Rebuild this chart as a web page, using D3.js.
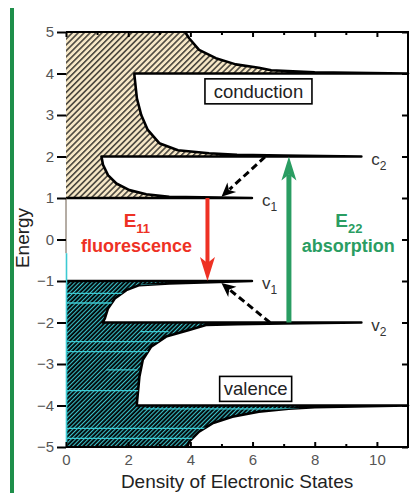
<!DOCTYPE html>
<html>
<head>
<meta charset="utf-8">
<script src="https://cdn.jsdelivr.net/npm/d3@7"></script>
<style>
    body { margin: 0; background: #fff; }
    text { font-family: "Liberation Sans", Arial, sans-serif; }
</style>
</head>
<body>
<svg id="chart" width="412" height="493"></svg>
<script>
// data: [density, energy]
var conductionEdge = [
    [0, 1], [5.98, 1], [3.32, 1.03], [2.58, 1.09], [2.04, 1.19], [1.62, 1.35],
    [1.35, 1.55], [1.19, 1.8], [1.14, 2], [9.5, 2], [7, 2.02], [5.5, 2.04],
    [4.6, 2.08], [3.6, 2.15], [3.0, 2.32], [2.63, 2.64], [2.42, 3.0], [2.28, 3.4],
    [2.2, 3.96], [2.2, 4], [11, 4], [8, 4.03], [6.6, 4.08], [6.2, 4.14],
    [5.46, 4.22], [4.82, 4.37], [4.28, 4.57], [3.96, 4.85], [3.83, 5]
];
var valenceEdge = [
    [0, -1], [5.98, -1], [3.32, -1.06], [2.36, -1.1], [1.94, -1.22], [1.57, -1.42],
    [1.35, -1.66], [1.25, -1.9], [1.18, -2], [9.5, -2], [7, -2.02], [5.5, -2.04],
    [4.5, -2.06], [3.96, -2.18], [3.22, -2.34], [2.74, -2.58], [2.47, -2.9],
    [2.36, -3.31], [2.28, -3.95], [2.28, -4], [11, -4], [8, -4.04], [7.16, -4.08],
    [6.2, -4.15], [5.35, -4.27], [4.71, -4.43], [4.28, -4.63], [3.96, -4.87], [3.9, -5]
];
// cyan streaks inside the valence fill: [energy, from, to]
var cyanStreaks = [
    [-1.1, 2.4, 3.3], [-1.3, 0, 2], [-1.53, 0, 2], [-2.22, 2.4, 3.3],
    [-2.46, 0, 11], [-2.7, 0, 11], [-3.14, 1.3, 2.3], [-3.64, 0, 11],
    [-4.08, 2.5, 7.5], [-4.55, 0, 11], [-4.79, 0, 11]
];
var subbands = [
    { name: "c", sub: "2", E: 2, end: 9.5 },
    { name: "c", sub: "1", E: 1, end: 5.98 },
    { name: "v", sub: "1", E: -1, end: 5.98 },
    { name: "v", sub: "2", E: -2, end: 9.5 }
];
var relaxations = [
    { from: [6.4, 1.99], to: [5.0, 1.03] },
    { from: [6.56, -2.0], to: [5.0, -1.05] }
];
var emission = { x: 4.55, from: 1, to: -1 };
var absorption = { x: 7.17, from: -2, to: 2 };
var xTicks = [0, 2, 4, 6, 8, 10];
var xMinor = [1, 3, 5, 7, 9];
var yTicks = [5, 4, 3, 2, 1, 0, -1, -2, -3, -4, -5];

var margin = { top: 32, right: 4, bottom: 46, left: 66 },
    width = 412,
    height = 493;
var innerW = width - margin.left - margin.right;
var innerH = height - margin.top - margin.bottom;

var tan = "#f6e7c6", cyan = "#3ccad2", red = "#ee3124", green = "#2a9d62";

var x = d3.scaleLinear().domain([0, 11]).range([0, innerW]);
var y = d3.scaleLinear().domain([-5, 5]).range([innerH, 0]);

var svg = d3.select("#chart");

// green bar on the far left
svg.append("rect").attr("x", 10).attr("y", 8).attr("width", 4).attr("height", height - 8)
    .attr("fill", "#1e8f4a");

var defs = svg.append("defs");
var pc = defs.append("pattern").attr("id", "hatchC").attr("patternUnits", "userSpaceOnUse")
    .attr("width", 4.2).attr("height", 10).attr("patternTransform", "rotate(45)");
pc.append("rect").attr("width", 4.2).attr("height", 10).attr("fill", tan);
pc.append("line").attr("x1", 0.8).attr("x2", 0.8).attr("y1", 0).attr("y2", 10)
    .attr("stroke", "#111").attr("stroke-width", 1.2);

var pv = defs.append("pattern").attr("id", "hatchV").attr("patternUnits", "userSpaceOnUse")
    .attr("width", 3).attr("height", 10).attr("patternTransform", "rotate(45)");
pv.append("rect").attr("width", 3).attr("height", 10).attr("fill", "#000");
pv.append("line").attr("x1", 0.6).attr("x2", 0.6).attr("y1", 0).attr("y2", 10)
    .attr("stroke", cyan).attr("stroke-width", 1.1);

var line = d3.line().x(d => x(d[0])).y(d => y(d[1]));

defs.append("clipPath").attr("id", "clipV")
    .append("path").attr("d", line(valenceEdge.concat([[0, -5]])) + "Z")
    .attr("transform", "translate(" + margin.left + "," + margin.top + ")");

var g = svg.append("g").attr("transform", "translate(" + margin.left + "," + margin.top + ")");

// fills
g.append("path").attr("d", line(conductionEdge.concat([[0, 5]])) + "Z").attr("fill", "url(#hatchC)");
g.append("path").attr("d", line(valenceEdge.concat([[0, -5]])) + "Z").attr("fill", "url(#hatchV)");

svg.append("g").attr("clip-path", "url(#clipV)")
    .selectAll("line").data(cyanStreaks).join("line")
    .attr("x1", d => margin.left + x(d[1])).attr("x2", d => margin.left + x(d[2]))
    .attr("y1", d => margin.top + y(d[0])).attr("y2", d => margin.top + y(d[0]))
    .attr("stroke", cyan).attr("stroke-width", 1.3);

// DOS outlines
[conductionEdge, valenceEdge].forEach(function (edge) {
    g.append("path").attr("d", line(edge)).attr("fill", "none")
        .attr("stroke", "#000").attr("stroke-width", 2.6).attr("stroke-linejoin", "round");
});

// left edge pieces
g.append("line").attr("x1", x(0)).attr("x2", x(0)).attr("y1", y(1)).attr("y2", y(-0.33))
    .attr("stroke", "#6b5a4a").attr("stroke-width", 1);
g.append("line").attr("x1", x(0) + 0.5).attr("x2", x(0) + 0.5).attr("y1", y(-0.33)).attr("y2", y(-5))
    .attr("stroke", cyan).attr("stroke-width", 1.6);

// frame
g.append("path")
    .attr("d", "M" + x(0) + "," + y(5) + "H" + x(11) + "V" + y(-5) + "H" + x(0))
    .attr("fill", "none").attr("stroke", "#000").attr("stroke-width", 2);

function styleAxis(sel) {
    sel.select(".domain").remove();
    sel.selectAll(".tick line").attr("stroke", "#000").attr("stroke-width", 2);
    sel.selectAll(".tick text").attr("fill", "#555").style("font-size", "15px")
        .style("font-family", '"Liberation Sans", Arial, sans-serif');
}

g.append("g").call(d3.axisLeft(y).tickValues(yTicks).tickSize(9).tickPadding(3)).call(styleAxis);
g.append("g").attr("transform", "translate(" + innerW + ",0)")
    .call(d3.axisRight(y).tickValues(yTicks).tickSize(-6).tickFormat("")).call(styleAxis);
g.append("g").attr("transform", "translate(0," + innerH + ")")
    .call(d3.axisBottom(x).tickValues(xTicks).tickSizeInner(-5).tickSizeOuter(0).tickPadding(7))
    .call(styleAxis);
g.append("g").attr("transform", "translate(0," + innerH + ")")
    .call(d3.axisBottom(x).tickValues(xMinor).tickSize(-3).tickFormat("")).call(styleAxis);
g.append("g").call(d3.axisTop(x).tickValues(xTicks).tickSize(-5).tickFormat("")).call(styleAxis);
g.append("g").call(d3.axisTop(x).tickValues(xMinor).tickSize(-3).tickFormat("")).call(styleAxis);

// sub-band labels
subbands.forEach(function (s) {
    var t = g.append("text").attr("x", x(s.end) + 10).attr("y", y(s.E) + 8)
        .attr("fill", "#333").style("font-size", "17px").text(s.name);
    t.append("tspan").attr("dy", 5).style("font-size", "12px").text(s.sub);
});

// band boxes
[{ label: "conduction", x: 6.19, E: 3.57, w: 107 }, { label: "valence", x: 6.1, E: -3.6, w: 72 }]
    .forEach(function (b) {
        g.append("rect").attr("x", x(b.x) - b.w / 2).attr("y", y(b.E) - 12.5)
            .attr("width", b.w).attr("height", 25).attr("fill", "#fff")
            .attr("stroke", "#000").attr("stroke-width", 1.6);
        g.append("text").attr("x", x(b.x)).attr("y", y(b.E) + 6.5).attr("text-anchor", "middle")
            .attr("fill", "#222").style("font-size", "18.5px").text(b.label);
    });

// dashed relaxation arrows
relaxations.forEach(function (r) {
    var x0 = x(r.from[0]), y0 = y(r.from[1]), x1 = x(r.to[0]), y1 = y(r.to[1]);
    var len = Math.hypot(x1 - x0, y1 - y0), ux = (x1 - x0) / len, uy = (y1 - y0) / len;
    var hl = 14, hw = 6.5;
    g.append("line").attr("x1", x0).attr("y1", y0)
        .attr("x2", x1 - ux * (hl - 3)).attr("y2", y1 - uy * (hl - 3))
        .attr("stroke", "#000").attr("stroke-width", 3).attr("stroke-dasharray", "7,4");
    var bx = x1 - ux * hl, by = y1 - uy * hl, nx = x1 - ux * (hl - 4), ny = y1 - uy * (hl - 4);
    g.append("path").attr("fill", "#000")
        .attr("d", "M" + x1 + "," + y1 + "L" + (bx - uy * hw) + "," + (by + ux * hw) +
            "L" + nx + "," + ny + "L" + (bx + uy * hw) + "," + (by - ux * hw) + "Z");
});

// optical transitions
function bigArrow(a, color, w) {
    var px = x(a.x), ys = y(a.from), yt = y(a.to), dir = yt > ys ? 1 : -1;
    var hl = 24, hw = 7.5;
    g.append("line").attr("x1", px).attr("x2", px).attr("y1", ys).attr("y2", yt - dir * (hl - 6))
        .attr("stroke", color).attr("stroke-width", w);
    g.append("path").attr("fill", color)
        .attr("d", "M" + px + "," + yt + "L" + (px - hw) + "," + (yt - dir * hl) +
            "L" + px + "," + (yt - dir * (hl - 6)) + "L" + (px + hw) + "," + (yt - dir * hl) + "Z");
}
bigArrow(emission, red, 4);
bigArrow(absorption, green, 5);

function bandText(cx, E, label, color) {
    var t = g.append("text").attr("x", cx).attr("y", y(E)).attr("text-anchor", "middle")
        .attr("fill", color).style("font-size", "19px").style("font-weight", "bold").text("E");
    t.append("tspan").attr("dy", 6).style("font-size", "13px").text(label);
}
bandText(x(2.28), 0.3, "11", red);
bandText(x(9.1), 0.3, "22", green);
g.append("text").attr("x", x(2.27)).attr("y", y(-0.29)).attr("text-anchor", "middle")
    .attr("fill", red).style("font-size", "18px").style("font-weight", "bold").text("fluorescence");
g.append("text").attr("x", x(9.08)).attr("y", y(-0.29)).attr("text-anchor", "middle")
    .attr("fill", green).style("font-size", "18px").style("font-weight", "bold").text("absorption");

// axis titles
svg.append("text").attr("x", margin.left + innerW * 0.43 + 24).attr("y", 488)
    .attr("text-anchor", "middle").attr("fill", "#222").style("font-size", "19px")
    .text("Density of Electronic States");
svg.append("text").attr("transform", "translate(29,238) rotate(-90)")
    .attr("text-anchor", "middle").attr("fill", "#222").style("font-size", "19px").text("Energy");
</script>
</body>
</html>
